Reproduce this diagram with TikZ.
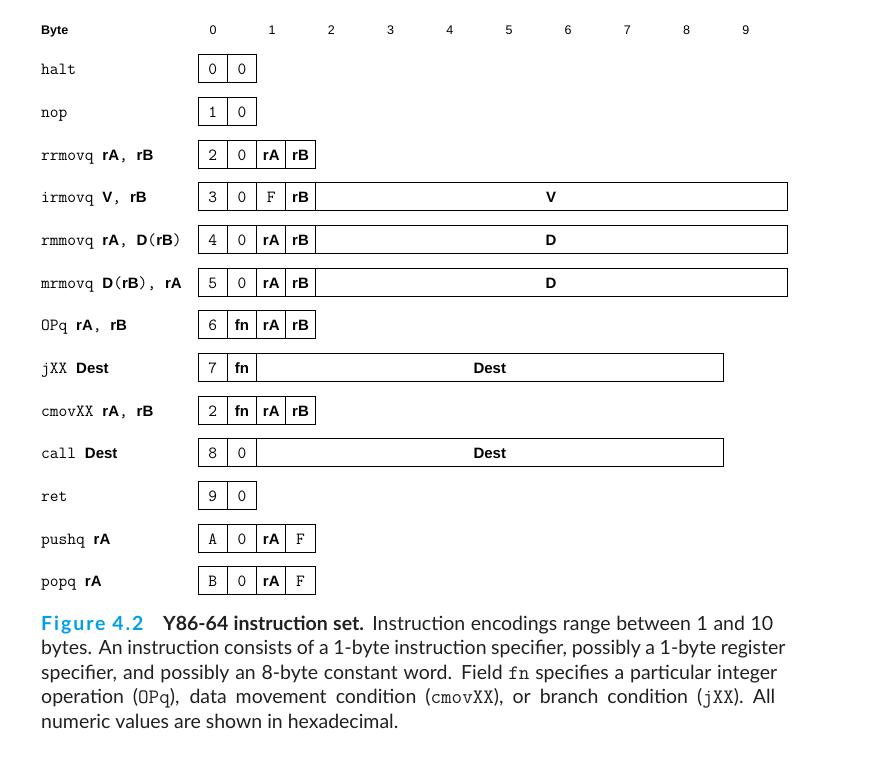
\documentclass[tikz,border=0pt]{standalone}
\usepackage{fontspec}
\setmainfont{Liberation Sans}
\newfontfamily\capfont{Lato}
\definecolor{figblue}{RGB}{0,160,227}
\definecolor{captext}{RGB}{35,31,32}
\newcommand\bx[1]{{\fontsize{15}{15}\selectfont\rmfamily\bfseries #1}}
\newcommand\tw[1]{{\fontsize{20.5}{20.5}\ttfamily #1}}
\newcommand\nib[4]{\node[cell,minimum width=29.3pt] (#1) at ({212.65+29.3*#2},#3) {#4};}
\begin{document}
\begin{tikzpicture}[x=1pt,y=-1pt,
  cell/.style={draw, line width=1pt, minimum height=28pt, inner sep=0pt,
    text height=13pt, text depth=0pt, font=\fontsize{17}{17}\ttfamily},
  lbl/.style={anchor=base west, inner sep=0pt, font=\fontsize{17}{17}\ttfamily},
  hdr/.style={anchor=base, inner sep=0pt, font=\fontsize{12.5}{12.5}\selectfont},
  capline/.style={anchor=base west, inner sep=0pt, text=captext,
    font=\fontsize{19.5}{19.5}\capfont}
]
\useasboundingbox (0,0) rectangle (877,758);
% header
\node[hdr, anchor=base west, font=\fontsize{12.5}{12.5}\selectfont\bfseries] (byte) at (41,34) {Byte};
\foreach \k in {0,...,9} {
  \node[hdr] (h\k) at ({213+59.2*\k},34) {\k};
}
% halt
\node[lbl] (lhalt) at (41,74.5) {halt};
\nib{halt0}{0}{68}{0}\nib{halt1}{1}{68}{0}
% nop
\node[lbl] (lnop) at (41,117.5) {nop};
\nib{nop0}{0}{111}{1}\nib{nop1}{1}{111}{0}
% rrmovq
\node[lbl] (lrr) at (41,160.5) {rrmovq \bx{rA}, \bx{rB}};
\nib{rr0}{0}{154}{2}\nib{rr1}{1}{154}{0}\nib{rr2}{2}{154}{\bx{rA}}\nib{rr3}{3}{154}{\bx{rB}}
% irmovq
\node[lbl] (lir) at (41,202.5) {irmovq \bx{V}, \bx{rB}};
\nib{ir0}{0}{196}{3}\nib{ir1}{1}{196}{0}\nib{ir2}{2}{196}{F}\nib{ir3}{3}{196}{\bx{rB}}
\node[cell, minimum width=471.8pt] (irv) at (551.1,196) {\bx{V}};
% rmmovq
\node[lbl] (lrm) at (41,245.5) {rmmovq \bx{rA}, \bx{D}(\bx{rB})};
\nib{rm0}{0}{239}{4}\nib{rm1}{1}{239}{0}\nib{rm2}{2}{239}{\bx{rA}}\nib{rm3}{3}{239}{\bx{rB}}
\node[cell, minimum width=471.8pt] (rmd) at (551.1,239) {\bx{D}};
% mrmovq
\node[lbl] (lmr) at (41,288.5) {mrmovq \bx{D}(\bx{rB}), \bx{rA}};
\nib{mr0}{0}{282}{5}\nib{mr1}{1}{282}{0}\nib{mr2}{2}{282}{\bx{rA}}\nib{mr3}{3}{282}{\bx{rB}}
\node[cell, minimum width=471.8pt] (mrd) at (551.1,282) {\bx{D}};
% OPq
\node[lbl] (lop) at (41,330.5) {OPq \bx{rA}, \bx{rB}};
\nib{op0}{0}{324}{6}\nib{op1}{1}{324}{\bx{fn}}\nib{op2}{2}{324}{\bx{rA}}\nib{op3}{3}{324}{\bx{rB}}
% jXX
\node[lbl] (ljx) at (41,373.5) {jXX \bx{Dest}};
\nib{jx0}{0}{367}{7}\nib{jx1}{1}{367}{\bx{fn}}
\node[cell, minimum width=466.4pt] (jxd) at (489.8,367) {\bx{Dest}};
% cmovXX
\node[lbl] (lcm) at (41,416.5) {cmovXX \bx{rA}, \bx{rB}};
\nib{cm0}{0}{410}{2}\nib{cm1}{1}{410}{\bx{fn}}\nib{cm2}{2}{410}{\bx{rA}}\nib{cm3}{3}{410}{\bx{rB}}
% call
\node[lbl] (lca) at (41,458.5) {call \bx{Dest}};
\nib{ca0}{0}{452}{8}\nib{ca1}{1}{452}{0}
\node[cell, minimum width=466.4pt] (cad) at (489.8,452) {\bx{Dest}};
% ret
\node[lbl] (lre) at (41,501.5) {ret};
\nib{re0}{0}{495}{9}\nib{re1}{1}{495}{0}
% pushq
\node[lbl] (lpu) at (41,544.5) {pushq \bx{rA}};
\nib{pu0}{0}{538}{A}\nib{pu1}{1}{538}{0}\nib{pu2}{2}{538}{\bx{rA}}\nib{pu3}{3}{538}{F}
% popq
\node[lbl] (lpo) at (41,586.5) {popq \bx{rA}};
\nib{po0}{0}{580}{B}\nib{po1}{1}{580}{0}\nib{po2}{2}{580}{\bx{rA}}\nib{po3}{3}{580}{F}
% caption
\node[capline] (c1) at (41,630) {\makebox[122pt][l]{\color{figblue}\bfseries\addfontfeature{LetterSpace=10}Figure 4.2}\makebox[610pt][s]{\textbf{Y86-64 instruction set.} Instruction encodings range between 1 and 10}};
\node[capline] (c2) at (41,654.5) {\makebox[744pt][s]{bytes. An instruction consists of a 1-byte instruction specifier, possibly a 1-byte register}};
\node[capline] (c3) at (41,679) {\makebox[736pt][s]{specifier, and possibly an 8-byte constant word. Field \tw{fn} specifies a particular integer}};
\node[capline] (c4) at (41,703.5) {\makebox[734pt][s]{operation (\tw{OPq}), data movement condition (\tw{cmovXX}), or branch condition (\tw{jXX}). All}};
\node[capline] (c5) at (41,728) {numeric values are shown in hexadecimal.};
\end{tikzpicture}
\end{document}
